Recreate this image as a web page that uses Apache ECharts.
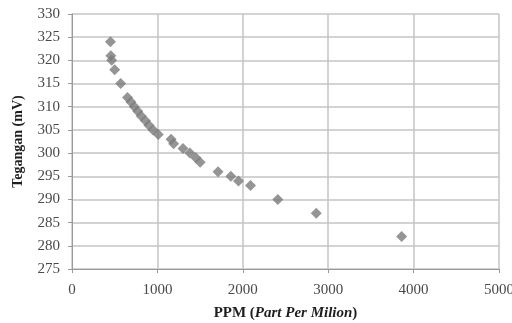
<!DOCTYPE html>
<html>
<head>
<meta charset="utf-8">
<script src="https://cdn.jsdelivr.net/npm/echarts@6/dist/echarts.min.js"></script>
<style>
  html, body { margin: 0; padding: 0; background: #fff; }
  #chart { width: 512px; height: 323px; }
</style>
</head>
<body>
<div id="chart"></div>
<script>
// Sensor reading: voltage (mV) against concentration (ppm)
const ppm = [450, 455, 465, 500, 570, 650, 690, 730, 770, 810, 860, 900, 950, 1010,
             1160, 1190, 1300, 1380, 1450, 1500, 1710, 1860, 1950, 2090, 2410, 2860, 3860];
const teganganMv = [324, 321, 320, 318, 315, 312, 311, 310, 309, 308, 307, 306, 305, 304,
                    303, 302, 301, 300, 299, 298, 296, 295, 294, 293, 290, 287, 282];

const xTicks = { min: 0, max: 5000, interval: 1000 };
const yTicks = { min: 275, max: 330, interval: 5 };

const points = ppm.map((p, i) => [p, teganganMv[i]]);

const serif = '"Liberation Serif", "DejaVu Serif", serif';
const gridLine = { show: true, lineStyle: { color: '#c4c4c4', width: 1.5 } };
const axisLine = { show: true, lineStyle: { color: '#9a9a9a', width: 1 } };
const plain = v => String(v);

const chart = echarts.init(document.getElementById('chart'), null, { renderer: 'canvas' });
chart.setOption({
  animation: false,
  backgroundColor: '#ffffff',
  grid: { left: 72, right: 13, top: 14, bottom: 54, outerBoundsMode: 'none', containLabel: false },
  xAxis: {
    type: 'value',
    min: xTicks.min, max: xTicks.max, interval: xTicks.interval,
    axisLine: axisLine,
    axisTick: { show: true, length: 4, lineStyle: { color: '#9a9a9a' } },
    splitLine: gridLine,
    axisLabel: { fontFamily: serif, fontSize: 15, color: '#4a4a4a', margin: 14, formatter: plain },
    name: '{b|PPM (}{bi|Part Per Milion}{b|)}',
    nameLocation: 'middle',
    nameGap: 37,
    nameMoveOverlap: false,
    nameTextStyle: {
      rich: {
        b: { fontFamily: serif, fontSize: 15, fontWeight: 'bold', color: '#1e1e1e' },
        bi: { fontFamily: serif, fontSize: 15, fontWeight: 'bold', fontStyle: 'italic', color: '#1e1e1e' }
      }
    }
  },
  yAxis: {
    type: 'value',
    min: yTicks.min, max: yTicks.max, interval: yTicks.interval,
    axisLine: axisLine,
    axisTick: { show: true, length: 4, lineStyle: { color: '#9a9a9a' } },
    splitLine: gridLine,
    axisLabel: { fontFamily: serif, fontSize: 15, color: '#4a4a4a', margin: 12, formatter: plain },
    name: 'Tegangan (mV)',
    nameLocation: 'middle',
    nameGap: 47,
    nameMoveOverlap: false,
    nameTextStyle: { fontFamily: serif, fontSize: 14, fontWeight: 'bold', color: '#1e1e1e' }
  },
  series: [{
    type: 'scatter',
    data: points,
    symbol: 'diamond',
    symbolSize: 11,
    itemStyle: { color: '#7a7a7a' }
  }]
});
</script>
</body>
</html>
